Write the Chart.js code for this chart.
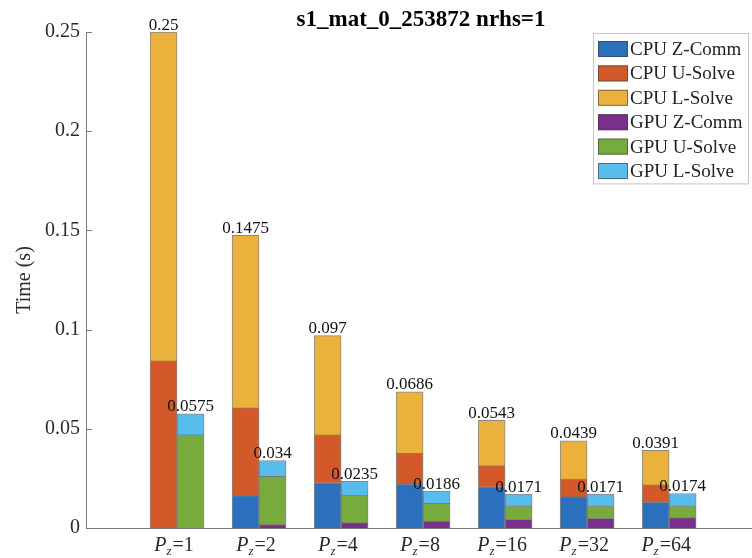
<!DOCTYPE html>
<html>
<head>
<meta charset="utf-8">
<script src="https://cdn.jsdelivr.net/npm/chart.js@4/dist/chart.umd.min.js"></script>
<style>
  html, body { margin: 0; padding: 0; background: #fff; }
  #wrap { width: 752px; height: 558px; }
</style>
</head>
<body>
<div id="wrap"><canvas id="c" width="752" height="558"></canvas></div>
<script>
// Solve-time breakdown per P_z value (seconds)
const categories = ['1', '2', '4', '8', '16', '32', '64'];
const cpuZComm  = [0, 0.0163, 0.0228, 0.0222, 0.0208, 0.0158, 0.0130];
const cpuUSolve = [0.0842, 0.0444, 0.0241, 0.0154, 0.0106, 0.0089, 0.0087];
const cpuLSolve = [0.1658, 0.0868, 0.0501, 0.0310, 0.0229, 0.0192, 0.0174];
const gpuZComm  = [0, 0.0017, 0.0027, 0.0035, 0.0044, 0.0049, 0.0052];
const gpuUSolve = [0.0469, 0.0243, 0.0138, 0.0089, 0.0067, 0.0062, 0.0059];
const gpuLSolve = [0.0106, 0.0080, 0.0070, 0.0062, 0.0060, 0.0060, 0.0063];
const cpuTotals = [0.25, 0.1475, 0.097, 0.0686, 0.0543, 0.0439, 0.0391];
const gpuTotals = [0.0575, 0.034, 0.0235, 0.0186, 0.0171, 0.0171, 0.0174];
const yTicks = [0, 0.05, 0.1, 0.15, 0.2, 0.25];
const titleText = 's1_mat_0_253872 nrhs=1';

// categories sit at x = 1..n on a linear axis
const xPos = categories.map((_, i) => i + 1);
const toPoints = arr => arr.map((v, i) => ({ x: xPos[i], y: v }));

const series = [
  { label: 'CPU Z-Comm', data: cpuZComm,  stack: 'CPU', color: '#2a70bd' },
  { label: 'CPU U-Solve', data: cpuUSolve, stack: 'CPU', color: '#d4592a' },
  { label: 'CPU L-Solve', data: cpuLSolve, stack: 'CPU', color: '#eab23c' },
  { label: 'GPU Z-Comm', data: gpuZComm,  stack: 'GPU', color: '#7a2f8c' },
  { label: 'GPU U-Solve', data: gpuUSolve, stack: 'GPU', color: '#78ab3d' },
  { label: 'GPU L-Solve', data: gpuLSolve, stack: 'GPU', color: '#58bdec' }
];

const SERIF = '"Liberation Serif", "DejaVu Serif", serif';
const AXIS_COLOR = '#7a7a7a';
const TEXT_COLOR = '#2a2a2a';

const decorations = {
  id: 'decorations',
  afterDatasetsDraw(chart) {
    const { ctx, chartArea: a, scales: { x, y } } = chart;
    ctx.save();

    // axis lines
    ctx.strokeStyle = AXIS_COLOR;
    ctx.lineWidth = 1;
    ctx.beginPath();
    ctx.moveTo(a.left + 0.5, y.getPixelForValue(yTicks[yTicks.length - 1]));
    ctx.lineTo(a.left + 0.5, a.bottom + 0.5);
    ctx.lineTo(a.right, a.bottom + 0.5);
    ctx.stroke();

    // inward tick marks on the y axis
    ctx.beginPath();
    yTicks.forEach(v => {
      const py = Math.round(y.getPixelForValue(v)) + 0.5;
      ctx.moveTo(a.left, py);
      ctx.lineTo(a.left + 6, py);
    });
    ctx.stroke();

    // category labels: P_z=<n>
    ctx.fillStyle = TEXT_COLOR;
    ctx.textBaseline = 'alphabetic';
    ctx.textAlign = 'left';
    const fP = 'italic 20px ' + SERIF;
    const fSub = 'italic 13px ' + SERIF;
    const fEq = '20px ' + SERIF;
    categories.forEach((c, i) => {
      const cx = x.getPixelForValue(xPos[i]) - 3;
      const base = 551;
      ctx.font = fP; const wP = ctx.measureText('P').width;
      ctx.font = fSub; const wS = ctx.measureText('z').width;
      ctx.font = fEq; const wE = ctx.measureText('=' + c).width;
      let px = cx - (wP + wS + 1 + wE) / 2;
      ctx.font = fP; ctx.fillText('P', px, base); px += wP;
      ctx.font = fSub; ctx.fillText('z', px, base + 4); px += wS + 1;
      ctx.font = fEq; ctx.fillText('=' + c, px, base);
    });

    // totals on top of each stack
    ctx.fillStyle = '#111';
    ctx.textAlign = 'center';
    ctx.font = '17px ' + SERIF;
    const cpuTop = chart.getDatasetMeta(2).data;
    const gpuTop = chart.getDatasetMeta(5).data;
    categories.forEach((_, i) => {
      ctx.fillText(String(cpuTotals[i]), cpuTop[i].x, y.getPixelForValue(cpuTotals[i]) - 2.5);
      ctx.fillText(String(gpuTotals[i]), gpuTop[i].x, y.getPixelForValue(gpuTotals[i]) - 2.5);
    });

    // legend box
    const lx = 593, ly = 33, lw = 155, rowH = 24.4;
    const lh = rowH * series.length + 4;
    ctx.fillStyle = '#fff';
    ctx.fillRect(lx, ly, lw, lh);
    ctx.strokeStyle = '#c4c4c4';
    ctx.strokeRect(lx + 0.5, ly + 0.5, lw, lh);
    ctx.font = '19px ' + SERIF;
    ctx.textAlign = 'left';
    ctx.textBaseline = 'middle';
    chart.data.datasets.forEach((ds, k) => {
      const cy = ly + 16 + rowH * k;
      ctx.fillStyle = ds.backgroundColor;
      ctx.fillRect(598, cy - 8, 30, 16);
      ctx.strokeStyle = 'rgba(60,60,60,0.6)';
      ctx.strokeRect(598.5, cy - 7.5, 29, 15);
      ctx.fillStyle = '#222';
      ctx.fillText(ds.label, 630, cy + 1);
    });

    // title
    ctx.fillStyle = '#000';
    ctx.font = 'bold 23px ' + SERIF;
    ctx.textAlign = 'center';
    ctx.textBaseline = 'alphabetic';
    ctx.fillText(titleText, (a.left + a.right) / 2 + 2, 26);

    ctx.restore();
  }
};

new Chart(document.getElementById('c'), {
  type: 'bar',
  data: {
    datasets: series.map(s => ({
      label: s.label,
      data: toPoints(s.data),
      stack: s.stack,
      backgroundColor: s.color,
      borderColor: 'rgba(40,40,40,0.55)',
      borderWidth: 1,
      barThickness: 27
    }))
  },
  options: {
    responsive: false,
    animation: false,
    devicePixelRatio: 1,
    layout: { padding: { top: 32, left: 0, right: 0, bottom: 0 } },
    plugins: {
      legend: { display: false },
      tooltip: { enabled: false },
      title: { display: false }
    },
    scales: {
      x: {
        type: 'linear',
        offset: false,
        min: -0.11,
        max: 8.01,
        stacked: true,
        grid: { display: false, drawTicks: false, offset: false },
        border: { display: false },
        ticks: { display: false, stepSize: 1 },
        afterFit: s => { s.height = 30; }
      },
      y: {
        min: 0,
        max: 0.25,
        stacked: true,
        grid: { display: false, drawTicks: false },
        border: { display: false },
        ticks: {
          padding: 6,
          color: TEXT_COLOR,
          font: { family: SERIF, size: 20 },
          callback: v => String(+Number(v).toFixed(2))
        },
        afterBuildTicks: s => { s.ticks = yTicks.map(v => ({ value: v })); },
        afterFit: s => { s.width = 86; },
        title: {
          display: true,
          text: 'Time (s)',
          color: TEXT_COLOR,
          font: { family: SERIF, size: 20 },
          padding: { top: 13, bottom: 0 }
        }
      }
    }
  },
  plugins: [decorations]
});
</script>
</body>
</html>
